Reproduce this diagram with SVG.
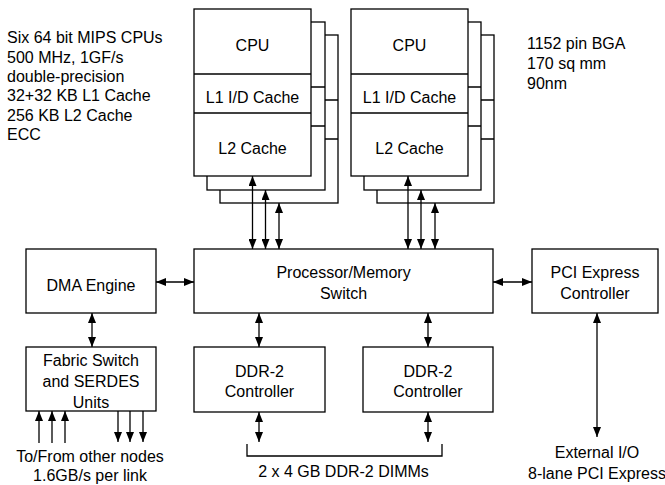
<svg xmlns="http://www.w3.org/2000/svg" width="665" height="485" viewBox="0 0 665 485">
<style>
.b{fill:#fff;stroke:#000;stroke-width:1.3}
.l{fill:none;stroke:#000;stroke-width:1.3}
text{font-family:"Liberation Sans",Arial,sans-serif;font-size:16px;fill:#000}
.c{text-anchor:middle}
.a{stroke:#000;stroke-width:1.3;fill:none;marker-end:url(#ah)}
.d{stroke:#000;stroke-width:1.3;fill:none;marker-start:url(#ah);marker-end:url(#ah)}
</style>
<defs>
<marker id="ah" viewBox="0 0 10 8" refX="10" refY="4" markerWidth="10" markerHeight="8" markerUnits="userSpaceOnUse" orient="auto-start-reverse">
<path d="M0,0 L10,4 L0,8 z" fill="#000"/>
</marker>
</defs>
<rect width="665" height="485" fill="#fff"/>

<g id="notes-left">
<text x="7" y="43">Six 64 bit MIPS CPUs</text>
<text x="7" y="62.5">500 MHz, 1GF/s</text>
<text x="7" y="82">double-precision</text>
<text x="7" y="101">32+32 KB L1 Cache</text>
<text x="7" y="120.5">256 KB L2 Cache</text>
<text x="7" y="140">ECC</text>
</g>
<g id="notes-right">
<text x="527" y="49">1152 pin BGA</text>
<text x="527" y="69">170 sq mm</text>
<text x="527" y="89">90nm</text>
</g>

<g id="cpu-stack-1">
<rect class="b" x="220" y="35" width="118" height="168"/>
<line class="l" x1="220" y1="100" x2="338" y2="100"/>
<line class="l" x1="220" y1="139" x2="338" y2="139"/>
<rect class="b" x="207" y="22" width="118" height="168"/>
<line class="l" x1="207" y1="87" x2="325" y2="87"/>
<line class="l" x1="207" y1="126" x2="325" y2="126"/>
<rect class="b" x="194" y="9" width="117" height="167"/>
<line class="l" x1="194" y1="74" x2="311" y2="74"/>
<line class="l" x1="194" y1="113" x2="311" y2="113"/>
<text class="c" x="252.5" y="51">CPU</text>
<text class="c" x="252.5" y="103">L1 I/D Cache</text>
<text class="c" x="252.5" y="154">L2 Cache</text>
</g>

<g id="cpu-stack-2">
<rect class="b" x="377" y="35" width="117" height="168"/>
<line class="l" x1="377" y1="100" x2="494" y2="100"/>
<line class="l" x1="377" y1="139" x2="494" y2="139"/>
<rect class="b" x="364" y="22" width="117" height="168"/>
<line class="l" x1="364" y1="87" x2="481" y2="87"/>
<line class="l" x1="364" y1="126" x2="481" y2="126"/>
<rect class="b" x="351" y="9" width="117" height="167"/>
<line class="l" x1="351" y1="74" x2="468" y2="74"/>
<line class="l" x1="351" y1="113" x2="468" y2="113"/>
<text class="c" x="409.5" y="51">CPU</text>
<text class="c" x="409.5" y="103">L1 I/D Cache</text>
<text class="c" x="409.5" y="154">L2 Cache</text>
</g>

<g id="switch">
<rect class="b" x="194" y="249" width="299" height="64"/>
<text class="c" x="343.5" y="278">Processor/Memory</text>
<text class="c" x="343.5" y="299">Switch</text>
</g>

<g id="dma">
<rect class="b" x="26" y="249" width="130" height="64"/>
<text class="c" x="91" y="291">DMA Engine</text>
</g>

<g id="fabric">
<rect class="b" x="26" y="347" width="130" height="64"/>
<text class="c" x="91" y="366">Fabric Switch</text>
<text class="c" x="91" y="387">and SERDES</text>
<text class="c" x="91" y="408">Units</text>
</g>

<g id="ddr-1">
<rect class="b" x="194" y="347" width="131" height="65"/>
<text class="c" x="259.5" y="377">DDR-2</text>
<text class="c" x="259.5" y="397">Controller</text>
</g>

<g id="ddr-2">
<rect class="b" x="363" y="347" width="130" height="65"/>
<text class="c" x="428" y="377">DDR-2</text>
<text class="c" x="428" y="397">Controller</text>
</g>

<g id="pci">
<rect class="b" x="532" y="249" width="126" height="64"/>
<text class="c" x="595" y="278">PCI Express</text>
<text class="c" x="595" y="299">Controller</text>
</g>

<g id="labels">
<text class="c" x="343.5" y="477">2 x 4 GB DDR-2 DIMMs</text>
<text class="c" x="90" y="462">To/From other nodes</text>
<text class="c" x="90" y="481">1.6GB/s per link</text>
<text class="c" x="597" y="458">External I/O</text>
<text class="c" x="597" y="479">8-lane PCI Express</text>
</g>

<g id="connectors">
<line class="d" x1="252.5" y1="176" x2="252.5" y2="249"/>
<line class="d" x1="265.5" y1="190" x2="265.5" y2="249"/>
<line class="d" x1="279" y1="203" x2="279" y2="249"/>
<line class="d" x1="408" y1="176" x2="408" y2="249"/>
<line class="d" x1="421" y1="190" x2="421" y2="249"/>
<line class="d" x1="435" y1="203" x2="435" y2="249"/>
<line class="d" x1="156" y1="282" x2="194" y2="282"/>
<line class="d" x1="493" y1="282" x2="532" y2="282"/>
<line class="d" x1="92" y1="313" x2="92" y2="347"/>
<line class="d" x1="259" y1="313" x2="259" y2="347"/>
<line class="d" x1="428" y1="313" x2="428" y2="347"/>
<line class="d" x1="259" y1="412" x2="259" y2="442"/>
<line class="d" x1="428" y1="412" x2="428" y2="442"/>
<line class="d" x1="597" y1="313" x2="597" y2="437"/>
<line class="a" x1="39" y1="443" x2="39" y2="411"/>
<line class="a" x1="52" y1="443" x2="52" y2="411"/>
<line class="a" x1="65" y1="443" x2="65" y2="411"/>
<line class="a" x1="118" y1="411" x2="118" y2="442"/>
<line class="a" x1="130" y1="411" x2="130" y2="442"/>
<line class="a" x1="143" y1="411" x2="143" y2="442"/>
<path class="l" d="M247,444 V456 H442 V444"/>
</g>
</svg>
